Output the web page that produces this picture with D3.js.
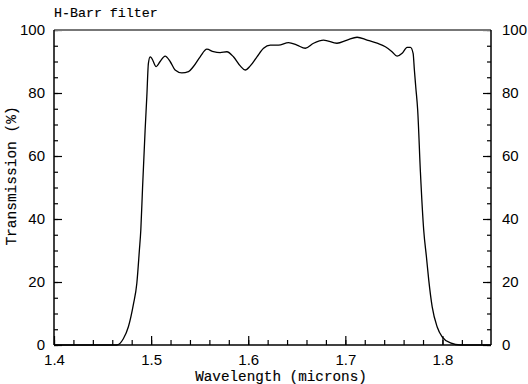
<!DOCTYPE html>
<html><head><meta charset="utf-8">
<script src="https://cdn.jsdelivr.net/npm/d3@7"></script>
<style>
html,body{margin:0;padding:0;background:#fff;}
svg{display:block;}
.serif{font-family:"Liberation Mono","Courier New",monospace;fill:#000;stroke:#000;stroke-width:0.15;}
.tick text{font-family:"Liberation Sans",Arial,sans-serif;font-size:15px;fill:#000;}
</style></head>
<body>
<svg id="chart" width="528" height="384"></svg>
<script>
const title = "H-Barr filter";
const xLabel = "Wavelength (microns)";
const yLabel = "Transmission (%)";
const xTicks = [1.4, 1.5, 1.6, 1.7, 1.8];
const yTicks = [0, 20, 40, 60, 80, 100];
const wavelength = [1.40, 1.44, 1.4600, 1.4646, 1.4714, 1.4766, 1.4818, 1.4853, 1.4879, 1.4894, 1.4912, 1.4938, 1.4956, 1.4972, 1.4990, 1.5007, 1.5052, 1.5093, 1.5144, 1.5196, 1.5247, 1.5316, 1.5385, 1.5436, 1.5505, 1.5574, 1.5642, 1.5711, 1.5780, 1.5848, 1.5918, 1.5969, 1.6021, 1.6090, 1.6158, 1.6227, 1.6312, 1.6416, 1.6502, 1.6588, 1.6673, 1.6776, 1.6914, 1.7018, 1.7121, 1.7224, 1.7327, 1.7412, 1.7481, 1.7533, 1.7585, 1.7636, 1.7670, 1.7698, 1.7711, 1.7725, 1.7745, 1.7773, 1.7807, 1.7835, 1.7859, 1.7894, 1.7945, 1.7997, 1.8082, 1.8186, 1.85];
const transmission = [0, 0, 0, 0, 2, 5.8, 13, 19.6, 30, 36.5, 50, 68, 79, 89.4, 91.5, 91, 88.4, 90, 91.7, 90, 87.3, 86.4, 86.8, 88.4, 91.5, 93.9, 93.1, 92.8, 93.1, 91.5, 88.6, 87.3, 88.6, 91.5, 94.2, 95.2, 95.2, 96, 95.2, 94.2, 95.8, 96.8, 95.8, 96.8, 97.7, 96.8, 95.8, 94.7, 93.1, 91.7, 92.6, 94.5, 94.5, 92.6, 87.3, 82, 74.6, 55, 36.5, 28, 20.6, 12.2, 5.8, 2.6, 0.7, 0, 0];

const svg = d3.select("#chart");
const L = 54, R = 491, T = 30, B = 345;
const x = d3.scaleLinear().domain([1.4, 1.85]).range([L, R]);
const y = d3.scaleLinear().domain([0, 100]).range([B, T]);

const xMinor = d3.range(1.40, 1.851, 0.02).map(v => +v.toFixed(2));
const yMinor = d3.range(0, 100.1, 5);

function styleAxis(g){ g.select(".domain").remove(); g.selectAll(".tick line").attr("stroke","#000").attr("stroke-width",1.2); }

svg.append("g").attr("transform",`translate(0,${B})`)
  .call(d3.axisBottom(x).tickValues(xMinor).tickSize(-5).tickFormat(""))
  .call(styleAxis);
svg.append("g").attr("transform",`translate(0,${B})`)
  .call(d3.axisBottom(x).tickValues(xTicks).tickSize(-9).tickPadding(9).tickFormat(d3.format(".1f")))
  .call(styleAxis);
svg.append("g").attr("transform",`translate(${L},0)`)
  .call(d3.axisLeft(y).tickValues(yMinor).tickSize(-4).tickFormat(""))
  .call(styleAxis);
svg.append("g").attr("transform",`translate(${L},0)`)
  .call(d3.axisLeft(y).tickValues(yTicks).tickSize(-8).tickPadding(9))
  .call(styleAxis);
svg.append("g").attr("transform",`translate(${R},0)`)
  .call(d3.axisRight(y).tickValues(yMinor).tickSize(-4).tickFormat(""))
  .call(styleAxis);
svg.append("g").attr("transform",`translate(${R},0)`)
  .call(d3.axisRight(y).tickValues(yTicks).tickSize(-8).tickPadding(11))
  .call(styleAxis);

svg.append("line").attr("x1",L).attr("x2",R).attr("y1",T).attr("y2",T).attr("stroke","#777").attr("stroke-width",2);
svg.append("line").attr("x1",L).attr("x2",R).attr("y1",B).attr("y2",B).attr("stroke","#000").attr("stroke-width",1.5);
svg.append("line").attr("x1",L).attr("x2",L).attr("y1",T).attr("y2",B).attr("stroke","#000").attr("stroke-width",1.5);
svg.append("line").attr("x1",R).attr("x2",R).attr("y1",T).attr("y2",B).attr("stroke","#000").attr("stroke-width",1.5);

const line = d3.line().x((d,i)=>x(wavelength[i])).y(d=>y(d)).curve(d3.curveMonotoneX);
svg.append("path").datum(transmission).attr("d",line).attr("fill","none").attr("stroke","#000").attr("stroke-width",1.3);

svg.append("text").attr("class","serif").attr("x",54).attr("y",17).attr("font-size",13.3).text(title);
svg.append("text").attr("class","serif").attr("x",281).attr("y",381).attr("text-anchor","middle").attr("font-size",14.3).text(xLabel);
svg.append("text").attr("class","serif").attr("transform","translate(16,176) rotate(-90)").attr("text-anchor","middle").attr("font-size",14.5).text(yLabel);
</script>
</body></html>
